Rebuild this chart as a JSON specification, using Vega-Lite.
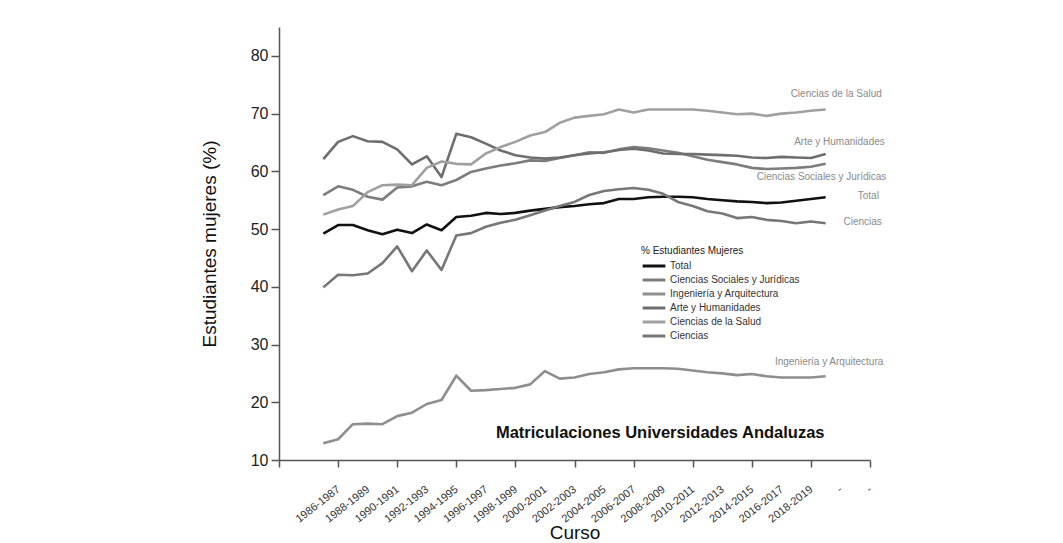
{
  "$schema": "https://vega.github.io/schema/vega-lite/v6.json",
  "width": 591,
  "height": 433,
  "autosize": {"type": "none"},
  "padding": {"left": 279, "top": 27, "right": 193, "bottom": 83},
  "background": "white",
  "config": {"font": "Liberation Sans", "view": {"stroke": null}},
  "datasets": {
    "cursos": [
      {"anio":1986,"curso":"1986-1987"},{"anio":1988,"curso":"1988-1989"},{"anio":1990,"curso":"1990-1991"},{"anio":1992,"curso":"1992-1993"},{"anio":1994,"curso":"1994-1995"},{"anio":1996,"curso":"1996-1997"},{"anio":1998,"curso":"1998-1999"},{"anio":2000,"curso":"2000-2001"},{"anio":2002,"curso":"2002-2003"},{"anio":2004,"curso":"2004-2005"},{"anio":2006,"curso":"2006-2007"},{"anio":2008,"curso":"2008-2009"},{"anio":2010,"curso":"2010-2011"},{"anio":2012,"curso":"2012-2013"},{"anio":2014,"curso":"2014-2015"},{"anio":2016,"curso":"2016-2017"},{"anio":2018,"curso":"2018-2019"},{"anio":2020,"curso":"-"},{"anio":2022,"curso":"-"}
    ],
    "matriculas": [
      {"anio":1985,"serie":"Total","pct":49.2},{"anio":1986,"serie":"Total","pct":50.7},{"anio":1987,"serie":"Total","pct":50.7},{"anio":1988,"serie":"Total","pct":49.8},{"anio":1989,"serie":"Total","pct":49.1},{"anio":1990,"serie":"Total","pct":49.9},{"anio":1991,"serie":"Total","pct":49.3},{"anio":1992,"serie":"Total","pct":50.8},{"anio":1993,"serie":"Total","pct":49.8},{"anio":1994,"serie":"Total","pct":52.1},{"anio":1995,"serie":"Total","pct":52.3},{"anio":1996,"serie":"Total","pct":52.8},{"anio":1997,"serie":"Total","pct":52.6},{"anio":1998,"serie":"Total","pct":52.8},{"anio":1999,"serie":"Total","pct":53.2},{"anio":2000,"serie":"Total","pct":53.5},{"anio":2001,"serie":"Total","pct":53.8},{"anio":2002,"serie":"Total","pct":54.0},{"anio":2003,"serie":"Total","pct":54.3},{"anio":2004,"serie":"Total","pct":54.5},{"anio":2005,"serie":"Total","pct":55.2},{"anio":2006,"serie":"Total","pct":55.2},{"anio":2007,"serie":"Total","pct":55.5},{"anio":2008,"serie":"Total","pct":55.6},{"anio":2009,"serie":"Total","pct":55.6},{"anio":2010,"serie":"Total","pct":55.5},{"anio":2011,"serie":"Total","pct":55.2},{"anio":2012,"serie":"Total","pct":55.0},{"anio":2013,"serie":"Total","pct":54.8},{"anio":2014,"serie":"Total","pct":54.7},{"anio":2015,"serie":"Total","pct":54.5},{"anio":2016,"serie":"Total","pct":54.6},{"anio":2017,"serie":"Total","pct":54.9},{"anio":2018,"serie":"Total","pct":55.2},{"anio":2019,"serie":"Total","pct":55.5},
      {"anio":1985,"serie":"Ciencias Sociales y Jurídicas","pct":55.9},{"anio":1986,"serie":"Ciencias Sociales y Jurídicas","pct":57.4},{"anio":1987,"serie":"Ciencias Sociales y Jurídicas","pct":56.8},{"anio":1988,"serie":"Ciencias Sociales y Jurídicas","pct":55.6},{"anio":1989,"serie":"Ciencias Sociales y Jurídicas","pct":55.1},{"anio":1990,"serie":"Ciencias Sociales y Jurídicas","pct":57.2},{"anio":1991,"serie":"Ciencias Sociales y Jurídicas","pct":57.4},{"anio":1992,"serie":"Ciencias Sociales y Jurídicas","pct":58.2},{"anio":1993,"serie":"Ciencias Sociales y Jurídicas","pct":57.6},{"anio":1994,"serie":"Ciencias Sociales y Jurídicas","pct":58.5},{"anio":1995,"serie":"Ciencias Sociales y Jurídicas","pct":59.9},{"anio":1996,"serie":"Ciencias Sociales y Jurídicas","pct":60.5},{"anio":1997,"serie":"Ciencias Sociales y Jurídicas","pct":61.0},{"anio":1998,"serie":"Ciencias Sociales y Jurídicas","pct":61.4},{"anio":1999,"serie":"Ciencias Sociales y Jurídicas","pct":61.9},{"anio":2000,"serie":"Ciencias Sociales y Jurídicas","pct":61.8},{"anio":2001,"serie":"Ciencias Sociales y Jurídicas","pct":62.3},{"anio":2002,"serie":"Ciencias Sociales y Jurídicas","pct":62.8},{"anio":2003,"serie":"Ciencias Sociales y Jurídicas","pct":63.3},{"anio":2004,"serie":"Ciencias Sociales y Jurídicas","pct":63.2},{"anio":2005,"serie":"Ciencias Sociales y Jurídicas","pct":63.8},{"anio":2006,"serie":"Ciencias Sociales y Jurídicas","pct":64.2},{"anio":2007,"serie":"Ciencias Sociales y Jurídicas","pct":64.0},{"anio":2008,"serie":"Ciencias Sociales y Jurídicas","pct":63.6},{"anio":2009,"serie":"Ciencias Sociales y Jurídicas","pct":63.2},{"anio":2010,"serie":"Ciencias Sociales y Jurídicas","pct":62.6},{"anio":2011,"serie":"Ciencias Sociales y Jurídicas","pct":62.0},{"anio":2012,"serie":"Ciencias Sociales y Jurídicas","pct":61.6},{"anio":2013,"serie":"Ciencias Sociales y Jurídicas","pct":61.2},{"anio":2014,"serie":"Ciencias Sociales y Jurídicas","pct":60.6},{"anio":2015,"serie":"Ciencias Sociales y Jurídicas","pct":60.4},{"anio":2016,"serie":"Ciencias Sociales y Jurídicas","pct":60.5},{"anio":2017,"serie":"Ciencias Sociales y Jurídicas","pct":60.6},{"anio":2018,"serie":"Ciencias Sociales y Jurídicas","pct":60.8},{"anio":2019,"serie":"Ciencias Sociales y Jurídicas","pct":61.3},
      {"anio":1985,"serie":"Ingeniería y Arquitectura","pct":12.9},{"anio":1986,"serie":"Ingeniería y Arquitectura","pct":13.6},{"anio":1987,"serie":"Ingeniería y Arquitectura","pct":16.2},{"anio":1988,"serie":"Ingeniería y Arquitectura","pct":16.3},{"anio":1989,"serie":"Ingeniería y Arquitectura","pct":16.2},{"anio":1990,"serie":"Ingeniería y Arquitectura","pct":17.6},{"anio":1991,"serie":"Ingeniería y Arquitectura","pct":18.2},{"anio":1992,"serie":"Ingeniería y Arquitectura","pct":19.7},{"anio":1993,"serie":"Ingeniería y Arquitectura","pct":20.4},{"anio":1994,"serie":"Ingeniería y Arquitectura","pct":24.6},{"anio":1995,"serie":"Ingeniería y Arquitectura","pct":22.0},{"anio":1996,"serie":"Ingeniería y Arquitectura","pct":22.1},{"anio":1997,"serie":"Ingeniería y Arquitectura","pct":22.3},{"anio":1998,"serie":"Ingeniería y Arquitectura","pct":22.5},{"anio":1999,"serie":"Ingeniería y Arquitectura","pct":23.1},{"anio":2000,"serie":"Ingeniería y Arquitectura","pct":25.4},{"anio":2001,"serie":"Ingeniería y Arquitectura","pct":24.1},{"anio":2002,"serie":"Ingeniería y Arquitectura","pct":24.3},{"anio":2003,"serie":"Ingeniería y Arquitectura","pct":24.9},{"anio":2004,"serie":"Ingeniería y Arquitectura","pct":25.2},{"anio":2005,"serie":"Ingeniería y Arquitectura","pct":25.7},{"anio":2006,"serie":"Ingeniería y Arquitectura","pct":25.9},{"anio":2007,"serie":"Ingeniería y Arquitectura","pct":25.9},{"anio":2008,"serie":"Ingeniería y Arquitectura","pct":25.9},{"anio":2009,"serie":"Ingeniería y Arquitectura","pct":25.8},{"anio":2010,"serie":"Ingeniería y Arquitectura","pct":25.5},{"anio":2011,"serie":"Ingeniería y Arquitectura","pct":25.2},{"anio":2012,"serie":"Ingeniería y Arquitectura","pct":25.0},{"anio":2013,"serie":"Ingeniería y Arquitectura","pct":24.7},{"anio":2014,"serie":"Ingeniería y Arquitectura","pct":24.9},{"anio":2015,"serie":"Ingeniería y Arquitectura","pct":24.5},{"anio":2016,"serie":"Ingeniería y Arquitectura","pct":24.3},{"anio":2017,"serie":"Ingeniería y Arquitectura","pct":24.3},{"anio":2018,"serie":"Ingeniería y Arquitectura","pct":24.3},{"anio":2019,"serie":"Ingeniería y Arquitectura","pct":24.5},
      {"anio":1985,"serie":"Arte y Humanidades","pct":62.1},{"anio":1986,"serie":"Arte y Humanidades","pct":65.1},{"anio":1987,"serie":"Arte y Humanidades","pct":66.1},{"anio":1988,"serie":"Arte y Humanidades","pct":65.2},{"anio":1989,"serie":"Arte y Humanidades","pct":65.1},{"anio":1990,"serie":"Arte y Humanidades","pct":63.8},{"anio":1991,"serie":"Arte y Humanidades","pct":61.2},{"anio":1992,"serie":"Arte y Humanidades","pct":62.6},{"anio":1993,"serie":"Arte y Humanidades","pct":59.0},{"anio":1994,"serie":"Arte y Humanidades","pct":66.5},{"anio":1995,"serie":"Arte y Humanidades","pct":65.9},{"anio":1996,"serie":"Arte y Humanidades","pct":64.8},{"anio":1997,"serie":"Arte y Humanidades","pct":63.6},{"anio":1998,"serie":"Arte y Humanidades","pct":62.8},{"anio":1999,"serie":"Arte y Humanidades","pct":62.4},{"anio":2000,"serie":"Arte y Humanidades","pct":62.2},{"anio":2001,"serie":"Arte y Humanidades","pct":62.4},{"anio":2002,"serie":"Arte y Humanidades","pct":62.8},{"anio":2003,"serie":"Arte y Humanidades","pct":63.1},{"anio":2004,"serie":"Arte y Humanidades","pct":63.3},{"anio":2005,"serie":"Arte y Humanidades","pct":63.7},{"anio":2006,"serie":"Arte y Humanidades","pct":63.9},{"anio":2007,"serie":"Arte y Humanidades","pct":63.6},{"anio":2008,"serie":"Arte y Humanidades","pct":63.1},{"anio":2009,"serie":"Arte y Humanidades","pct":63.0},{"anio":2010,"serie":"Arte y Humanidades","pct":63.0},{"anio":2011,"serie":"Arte y Humanidades","pct":62.9},{"anio":2012,"serie":"Arte y Humanidades","pct":62.8},{"anio":2013,"serie":"Arte y Humanidades","pct":62.7},{"anio":2014,"serie":"Arte y Humanidades","pct":62.4},{"anio":2015,"serie":"Arte y Humanidades","pct":62.3},{"anio":2016,"serie":"Arte y Humanidades","pct":62.5},{"anio":2017,"serie":"Arte y Humanidades","pct":62.4},{"anio":2018,"serie":"Arte y Humanidades","pct":62.3},{"anio":2019,"serie":"Arte y Humanidades","pct":63.0},
      {"anio":1985,"serie":"Ciencias de la Salud","pct":52.5},{"anio":1986,"serie":"Ciencias de la Salud","pct":53.4},{"anio":1987,"serie":"Ciencias de la Salud","pct":54.0},{"anio":1988,"serie":"Ciencias de la Salud","pct":56.4},{"anio":1989,"serie":"Ciencias de la Salud","pct":57.6},{"anio":1990,"serie":"Ciencias de la Salud","pct":57.7},{"anio":1991,"serie":"Ciencias de la Salud","pct":57.6},{"anio":1992,"serie":"Ciencias de la Salud","pct":60.6},{"anio":1993,"serie":"Ciencias de la Salud","pct":61.7},{"anio":1994,"serie":"Ciencias de la Salud","pct":61.3},{"anio":1995,"serie":"Ciencias de la Salud","pct":61.2},{"anio":1996,"serie":"Ciencias de la Salud","pct":63.1},{"anio":1997,"serie":"Ciencias de la Salud","pct":64.2},{"anio":1998,"serie":"Ciencias de la Salud","pct":65.1},{"anio":1999,"serie":"Ciencias de la Salud","pct":66.2},{"anio":2000,"serie":"Ciencias de la Salud","pct":66.8},{"anio":2001,"serie":"Ciencias de la Salud","pct":68.4},{"anio":2002,"serie":"Ciencias de la Salud","pct":69.3},{"anio":2003,"serie":"Ciencias de la Salud","pct":69.6},{"anio":2004,"serie":"Ciencias de la Salud","pct":69.9},{"anio":2005,"serie":"Ciencias de la Salud","pct":70.7},{"anio":2006,"serie":"Ciencias de la Salud","pct":70.2},{"anio":2007,"serie":"Ciencias de la Salud","pct":70.7},{"anio":2008,"serie":"Ciencias de la Salud","pct":70.7},{"anio":2009,"serie":"Ciencias de la Salud","pct":70.7},{"anio":2010,"serie":"Ciencias de la Salud","pct":70.7},{"anio":2011,"serie":"Ciencias de la Salud","pct":70.5},{"anio":2012,"serie":"Ciencias de la Salud","pct":70.2},{"anio":2013,"serie":"Ciencias de la Salud","pct":69.9},{"anio":2014,"serie":"Ciencias de la Salud","pct":70.0},{"anio":2015,"serie":"Ciencias de la Salud","pct":69.6},{"anio":2016,"serie":"Ciencias de la Salud","pct":70.0},{"anio":2017,"serie":"Ciencias de la Salud","pct":70.2},{"anio":2018,"serie":"Ciencias de la Salud","pct":70.5},{"anio":2019,"serie":"Ciencias de la Salud","pct":70.7},
      {"anio":1985,"serie":"Ciencias","pct":39.9},{"anio":1986,"serie":"Ciencias","pct":42.1},{"anio":1987,"serie":"Ciencias","pct":42.0},{"anio":1988,"serie":"Ciencias","pct":42.3},{"anio":1989,"serie":"Ciencias","pct":44.1},{"anio":1990,"serie":"Ciencias","pct":47.0},{"anio":1991,"serie":"Ciencias","pct":42.7},{"anio":1992,"serie":"Ciencias","pct":46.3},{"anio":1993,"serie":"Ciencias","pct":42.9},{"anio":1994,"serie":"Ciencias","pct":48.9},{"anio":1995,"serie":"Ciencias","pct":49.3},{"anio":1996,"serie":"Ciencias","pct":50.4},{"anio":1997,"serie":"Ciencias","pct":51.1},{"anio":1998,"serie":"Ciencias","pct":51.6},{"anio":1999,"serie":"Ciencias","pct":52.4},{"anio":2000,"serie":"Ciencias","pct":53.2},{"anio":2001,"serie":"Ciencias","pct":54.0},{"anio":2002,"serie":"Ciencias","pct":54.7},{"anio":2003,"serie":"Ciencias","pct":55.9},{"anio":2004,"serie":"Ciencias","pct":56.6},{"anio":2005,"serie":"Ciencias","pct":56.9},{"anio":2006,"serie":"Ciencias","pct":57.1},{"anio":2007,"serie":"Ciencias","pct":56.8},{"anio":2008,"serie":"Ciencias","pct":56.1},{"anio":2009,"serie":"Ciencias","pct":54.7},{"anio":2010,"serie":"Ciencias","pct":54.0},{"anio":2011,"serie":"Ciencias","pct":53.1},{"anio":2012,"serie":"Ciencias","pct":52.7},{"anio":2013,"serie":"Ciencias","pct":51.9},{"anio":2014,"serie":"Ciencias","pct":52.1},{"anio":2015,"serie":"Ciencias","pct":51.6},{"anio":2016,"serie":"Ciencias","pct":51.4},{"anio":2017,"serie":"Ciencias","pct":51.0},{"anio":2018,"serie":"Ciencias","pct":51.3},{"anio":2019,"serie":"Ciencias","pct":51.0}
    ]
  },
  "layer": [
    {
      "data": {"name": "matriculas"},
      "mark": {"type": "line", "strokeWidth": 2.6, "strokeJoin": "round"},
      "encoding": {
        "x": {
          "field": "anio", "type": "quantitative",
          "scale": {"domain": [1982, 2022], "nice": false, "zero": false},
          "axis": {
            "values": [1982,1983,1984,1985,1986,1987,1988,1989,1990,1991,1992,1993,1994,1995,1996,1997,1998,1999,2000,2001,2002,2003,2004,2005,2006,2007,2008,2009,2010,2011,2012,2013,2014,2015,2016,2017,2018,2019,2020,2021,2022],
            "labels": false,
            "tickSize": {"condition": {"test": "datum.value % 2 === 0", "value": 7}, "value": 3},
            "tickColor": "#555555", "tickWidth": 1.5,
            "domainColor": "#555555", "domainWidth": 1.5,
            "grid": false,
            "title": "Curso", "titleFontSize": 19, "titleFontWeight": "normal", "titleColor": "#111111", "titlePadding": 56
          }
        },
        "y": {
          "field": "pct", "type": "quantitative",
          "scale": {"domain": [10, 85], "nice": false, "zero": false},
          "axis": {
            "values": [10,15,20,25,30,35,40,45,50,55,60,65,70,75,80,85],
            "labelExpr": "(datum.value % 10 === 0 && datum.value <= 80) ? datum.value : ''",
            "labelFontSize": 16, "labelColor": "#222222", "labelPadding": 3,
            "tickSize": {"condition": {"test": "datum.value % 10 === 0", "value": 8}, "value": 4},
            "tickColor": "#555555", "tickWidth": 1.5,
            "domainColor": "#555555", "domainWidth": 1.5,
            "grid": false,
            "title": "Estudiantes mujeres (%)", "titleFontSize": 19, "titleFontWeight": "normal", "titleColor": "#111111", "titlePadding": 31
          }
        },
        "color": {
          "field": "serie", "type": "nominal",
          "scale": {
            "domain": ["Total", "Ciencias Sociales y Jurídicas", "Ingeniería y Arquitectura", "Arte y Humanidades", "Ciencias de la Salud", "Ciencias"],
            "range": ["#111111", "#7d7d7d", "#8e8e8e", "#6e6e6e", "#a0a0a0", "#777777"]
          },
          "legend": {
            "title": "% Estudiantes Mujeres", "orient": "none", "legendX": 362, "legendY": 219,
            "titleFontSize": 10, "titleFontWeight": "normal", "titleColor": "#222222", "titlePadding": 2,
            "labelFontSize": 10, "labelColor": "#333333", "labelOffset": 8,
            "symbolType": "M-1.75,0L1.75,0", "symbolSize": 169, "symbolStrokeWidth": 3, "symbolOffset": 5,
            "rowPadding": 0, "padding": 0
          }
        }
      }
    },
    {"data": {"name": "cursos"},
     "mark": {"type": "text", "align": "right", "baseline": "middle", "angle": 322, "fontSize": 11, "color": "#333333", "dx": 1},
     "encoding": {"x": {"field": "anio", "type": "quantitative"}, "y": {"datum": 5.0, "type": "quantitative"}, "text": {"field": "curso"}}},
    {"data": {"values": [{}]},
     "mark": {"type": "text", "align": "right", "baseline": "middle", "fontSize": 10, "color": "#8a8a8a"},
     "encoding": {"x": {"datum": 2022.8, "type": "quantitative"}, "y": {"datum": 73.4, "type": "quantitative"}, "text": {"value": "Ciencias de la Salud"}}},
    {"data": {"values": [{}]},
     "mark": {"type": "text", "align": "right", "baseline": "middle", "fontSize": 10, "color": "#8a8a8a"},
     "encoding": {"x": {"datum": 2023.0, "type": "quantitative"}, "y": {"datum": 65.0, "type": "quantitative"}, "text": {"value": "Arte y Humanidades"}}},
    {"data": {"values": [{}]},
     "mark": {"type": "text", "align": "right", "baseline": "middle", "fontSize": 10, "color": "#8a8a8a"},
     "encoding": {"x": {"datum": 2023.1, "type": "quantitative"}, "y": {"datum": 59.1, "type": "quantitative"}, "text": {"value": "Ciencias Sociales y Jurídicas"}}},
    {"data": {"values": [{}]},
     "mark": {"type": "text", "align": "right", "baseline": "middle", "fontSize": 10, "color": "#8a8a8a"},
     "encoding": {"x": {"datum": 2022.6, "type": "quantitative"}, "y": {"datum": 55.7, "type": "quantitative"}, "text": {"value": "Total"}}},
    {"data": {"values": [{}]},
     "mark": {"type": "text", "align": "right", "baseline": "middle", "fontSize": 10, "color": "#8a8a8a"},
     "encoding": {"x": {"datum": 2022.8, "type": "quantitative"}, "y": {"datum": 51.2, "type": "quantitative"}, "text": {"value": "Ciencias"}}},
    {"data": {"values": [{}]},
     "mark": {"type": "text", "align": "right", "baseline": "middle", "fontSize": 10, "color": "#8a8a8a"},
     "encoding": {"x": {"datum": 2022.9, "type": "quantitative"}, "y": {"datum": 27.0, "type": "quantitative"}, "text": {"value": "Ingeniería y Arquitectura"}}},
    {"data": {"values": [{}]},
     "mark": {"type": "text", "align": "center", "baseline": "middle", "fontSize": 16.5, "fontWeight": "bold", "color": "#111111"},
     "encoding": {"x": {"datum": 2007.8, "type": "quantitative"}, "y": {"datum": 14.7, "type": "quantitative"}, "text": {"value": "Matriculaciones Universidades Andaluzas"}}}
  ]
}
